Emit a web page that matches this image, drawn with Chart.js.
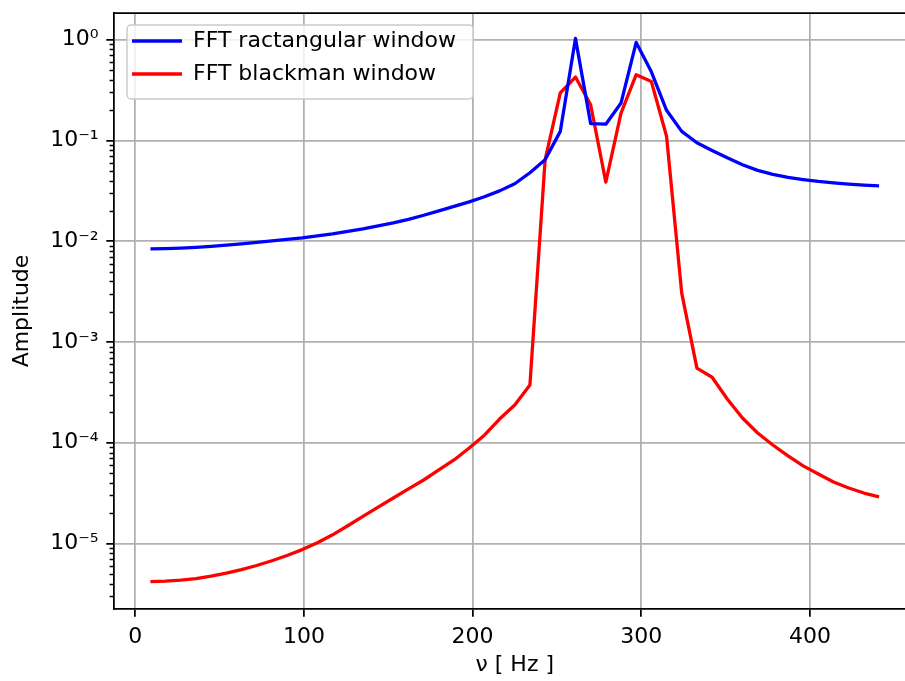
<!DOCTYPE html>
<html>
<head>
<meta charset="utf-8">
<script src="https://cdn.jsdelivr.net/npm/chart.js@4.4.1/dist/chart.umd.min.js"></script>
<style>
    html, body { margin: 0; padding: 0; background: #fff; overflow: hidden; }
    canvas { display: block; }
</style>
</head>
<body>
<canvas id="fftChart" width="920" height="681"></canvas>
<script>
// frequency bins [Hz]
const freqs = [9, 18, 27, 36, 45, 54, 63, 72, 81, 90, 99, 108, 117, 126, 135, 144, 153,
    162, 171, 180, 189, 198, 207, 216, 225, 234, 243, 252, 261, 270, 279, 288, 297, 306,
    315, 324, 333, 342, 351, 360, 369, 378, 387, 396, 405, 414, 423, 432, 441];

// FFT amplitude, rectangular window
const rectAmp = [0.0084, 0.00846, 0.00856, 0.0087, 0.0089, 0.00915, 0.00942, 0.00975,
    0.0101, 0.01045, 0.0108, 0.01132, 0.01184, 0.01254, 0.01328, 0.01422, 0.01524, 0.0165,
    0.0181, 0.02004, 0.0222, 0.0246, 0.0276, 0.0316, 0.0372, 0.0478, 0.0643, 0.123, 1.03,
    0.147, 0.145, 0.235, 0.94, 0.48, 0.199, 0.123, 0.0948, 0.0796, 0.0672, 0.0573, 0.0505,
    0.046, 0.043, 0.0409, 0.0392, 0.0379, 0.0369, 0.0361, 0.0355];

// FFT amplitude, blackman window
const blackmanAmp = [4.18e-6, 4.24e-6, 4.34e-6, 4.49e-6, 4.75e-6, 5.09e-6, 5.52e-6, 6.05e-6,
    6.75e-6, 7.6e-6, 8.7e-6, 1.02e-5, 1.22e-5, 1.5e-5, 1.86e-5, 2.3e-5, 2.83e-5, 3.48e-5,
    4.27e-5, 5.37e-5, 6.75e-5, 8.88e-5, 1.19e-4, 1.72e-4, 2.37e-4, 3.75e-4, 0.064, 0.296,
    0.426, 0.226, 0.0386, 0.187, 0.449, 0.385, 0.11, 3.05e-3, 5.5e-4, 4.47e-4, 2.72e-4,
    1.76e-4, 1.25e-4, 9.5e-5, 7.4e-5, 5.9e-5, 4.9e-5, 4.08e-5, 3.56e-5, 3.17e-5, 2.9e-5];

const xTicks = [0, 100, 200, 300, 400];
const yTicks = [1e-5, 1e-4, 1e-3, 1e-2, 1e-1, 1];
const yTickLabels = ["10\u207B\u2075", "10\u207B\u2074", "10\u207B\u00B3", "10\u207B\u00B2", "10\u207B\u00B9", "10\u2070"];

Chart.defaults.font.family = "'DejaVu Sans', sans-serif";
Chart.defaults.font.size = 22;
Chart.defaults.color = "#000";

// matplotlib-like frame: top spine, minor log ticks, legend box drawn under the legend
const framePlugin = {
    id: "frame",
    beforeLayout(chart) {
        const legend = chart.legend;
        if (legend) {
            legend._layers = () => [{ z: 1, draw: (area) => legend.draw(area) }];
        }
    },
    afterLayout(chart) {
        // place the legend like matplotlib's "upper left"
        chart.legend.left = chart.chartArea.left + 7;
        chart.legend.top = chart.chartArea.top + 6;
    },
    afterDatasetsDraw(chart) {
        const { ctx, chartArea } = chart;
        const yScale = chart.scales.y;
        ctx.save();

        // top + right spine
        ctx.strokeStyle = "#000";
        ctx.lineWidth = 1.75;
        ctx.beginPath();
        ctx.moveTo(chartArea.left, chartArea.top);
        ctx.lineTo(chartArea.right, chartArea.top);
        ctx.lineTo(chartArea.right, chartArea.bottom);
        ctx.stroke();

        // minor ticks on log axis
        ctx.lineWidth = 1.3;
        ctx.beginPath();
        for (let e = -6; e <= 0; e++) {
            for (let m = 2; m <= 9; m++) {
                const v = m * Math.pow(10, e);
                if (v < yScale.min || v > yScale.max) continue;
                const py = Math.round(yScale.getPixelForValue(v)) + 0.5;
                ctx.moveTo(chartArea.left - 4.4, py);
                ctx.lineTo(chartArea.left, py);
            }
        }
        ctx.stroke();

        // legend frame
        const boxes = chart.legend.legendHitBoxes;
        if (boxes && boxes.length) {
            const last = boxes[boxes.length - 1];
            const left = boxes[0].left - 5;
            const top = boxes[0].top - 5;
            const right = Math.max(...boxes.map((b) => b.left + b.width)) + 17;
            const bottom = last.top + last.height + 14;
            ctx.beginPath();
            ctx.roundRect(left, top, right - left, bottom - top, 4);
            ctx.fillStyle = "rgba(255,255,255,0.8)";
            ctx.fill();
            ctx.strokeStyle = "#cccccc";
            ctx.lineWidth = 1.5;
            ctx.stroke();
        }
        ctx.restore();
    },
};

document.addEventListener("DOMContentLoaded", () => {
    const ctx = document.getElementById("fftChart").getContext("2d");
    new Chart(ctx, {
        type: "line",
        data: {
            datasets: [
                {
                    label: "FFT ractangular window",
                    data: freqs.map((f, i) => ({ x: f, y: rectAmp[i] })),
                    borderColor: "#0000ff",
                    backgroundColor: "#0000ff",
                    borderWidth: 3.3,
                    borderJoinStyle: "round",
                    pointRadius: 0,
                    tension: 0,
                },
                {
                    label: "FFT blackman window",
                    data: freqs.map((f, i) => ({ x: f, y: blackmanAmp[i] })),
                    borderColor: "#ff0000",
                    backgroundColor: "#ff0000",
                    borderWidth: 3.3,
                    borderJoinStyle: "round",
                    pointRadius: 0,
                    tension: 0,
                },
            ],
        },
        options: {
            responsive: false,
            animation: false,
            devicePixelRatio: 1,
            layout: { padding: { top: 13, right: 4.5, left: 0, bottom: 0 } },
            plugins: {
                tooltip: { enabled: false },
                legend: {
                    position: "chartArea",
                    align: "start",
                    labels: {
                        usePointStyle: true,
                        pointStyle: "line",
                        pointStyleWidth: 50,
                        padding: 11,
                        color: "#000",
                        font: { size: 22 },
                    },
                },
            },
            scales: {
                x: {
                    type: "linear",
                    min: -12.6,
                    max: 462.6,
                    afterBuildTicks: (axis) => {
                        axis.ticks = xTicks.map((v) => ({ value: v }));
                    },
                    afterFit: (scale) => {
                        scale.height = 72;
                        scale.paddingLeft = 0;
                        scale.paddingRight = 0;
                    },
                    ticks: { padding: 7.7, maxRotation: 0, color: "#000" },
                    grid: {
                        color: "#b0b0b0",
                        lineWidth: 1.75,
                        tickColor: "#000",
                        tickLength: 7.7,
                        tickWidth: 1.75,
                    },
                    border: { color: "#000", width: 1.75 },
                    title: {
                        display: true,
                        text: "\u03BD [ Hz ]",
                        color: "#000",
                        padding: { top: 0, bottom: 3 },
                    },
                },
                y: {
                    type: "logarithmic",
                    min: 2.24e-6,
                    max: 1.84,
                    afterBuildTicks: (axis) => {
                        axis.ticks = yTicks.map((v) => ({ value: v }));
                    },
                    afterFit: (scale) => {
                        scale.width = 114;
                        scale.paddingTop = 0;
                        scale.paddingBottom = 0;
                    },
                    ticks: {
                        padding: 7.7,
                        color: "#000",
                        callback: (value) => {
                            const i = yTicks.indexOf(value);
                            return i >= 0 ? yTickLabels[i] : "";
                        },
                    },
                    grid: {
                        color: "#b0b0b0",
                        lineWidth: 1.75,
                        tickColor: "#000",
                        tickLength: 7.7,
                        tickWidth: 1.75,
                    },
                    border: { color: "#000", width: 1.75 },
                    title: {
                        display: true,
                        text: "Amplitude",
                        color: "#000",
                        padding: { top: 9, bottom: 0 },
                    },
                },
            },
        },
        plugins: [framePlugin],
    });
});
</script>
</body>
</html>
